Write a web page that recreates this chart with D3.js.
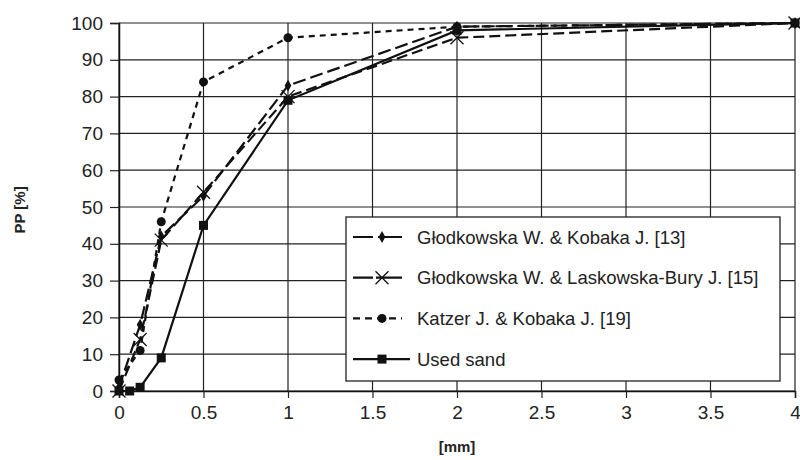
<!DOCTYPE html>
<html>
<head>
<meta charset="utf-8">
<script src="https://cdn.jsdelivr.net/npm/d3@7"></script>
<style>
  body { margin: 0; background: #fff; }
  svg text { fill: #222; }
</style>
</head>
<body>
<svg id="chart" width="800" height="460"></svg>
<script>
// sieve sizes [mm] and passing percentages
const seriesNames = [
  "Głodkowska W. & Kobaka J. [13]",
  "Głodkowska W. & Laskowska-Bury J. [15]",
  "Katzer J. & Kobaka J. [19]",
  "Used sand"
]
const sizesA = [0, 0.125, 0.25, 0.5, 1, 2, 4]
const kobaka13 = [1, 18, 42, 53, 83, 99, 100]
const laskowska15 = [0, 14, 41, 54, 80, 96, 100]
const katzer19 = [3, 11, 46, 84, 96, 99, 100]
const sizesSand = [0, 0.063, 0.125, 0.25, 0.5, 1, 2, 4]
const usedSand = [0, 0, 1, 9, 45, 79, 98, 100]

const xTicks = [0, 0.5, 1, 1.5, 2, 2.5, 3, 3.5, 4]
const yTicks = [0, 10, 20, 30, 40, 50, 60, 70, 80, 90, 100]

const svg = d3.select("#chart")
const margin = {left: 119, right: 5, top: 23, bottom: 69}
const width = 800, height = 460

const x = d3.scaleLinear().domain([0, 4]).range([margin.left, width - margin.right])
const y = d3.scaleLinear().domain([0, 100]).range([height - margin.bottom, margin.top])

// grid
svg.append("g")
  .selectAll("line.h").data(yTicks).enter().append("line")
  .attr("x1", x(0)).attr("x2", x(4))
  .attr("y1", d => y(d)).attr("y2", d => y(d))
  .attr("stroke", "#222").attr("stroke-width", 1.2)
svg.append("g")
  .selectAll("line.v").data(xTicks).enter().append("line")
  .attr("x1", d => x(d)).attr("x2", d => x(d))
  .attr("y1", y(0)).attr("y2", y(100))
  .attr("stroke", "#222").attr("stroke-width", 1.2)

// axes
const yAxis = svg.append("g")
  .attr("transform", "translate(" + x(0) + ",0)")
  .call(d3.axisLeft(y).tickValues(yTicks).tickSize(9).tickPadding(7))
yAxis.selectAll("text")
  .attr("font-family", "'Liberation Sans', Arial, sans-serif")
  .attr("font-size", 19).attr("fill", "#333")
const xAxis = svg.append("g")
  .attr("transform", "translate(0," + y(0) + ")")
  .call(d3.axisBottom(x).tickValues(xTicks).tickSize(7).tickPadding(8).tickFormat(d3.format("")))
xAxis.selectAll("text")
  .attr("font-family", "'Liberation Sans Narrow', 'Liberation Sans', Arial, sans-serif")
  .attr("font-size", 19).attr("fill", "#333")
svg.selectAll(".domain").attr("stroke", "#111").attr("stroke-width", 1.5)
svg.selectAll(".tick line").attr("stroke", "#222").attr("stroke-width", 1.2)

svg.append("text")
  .attr("transform", "translate(25," + ((y(0) + y(100)) / 2 + 3) + ") rotate(-90)")
  .attr("text-anchor", "middle")
  .attr("font-family", "'Liberation Sans', Arial, sans-serif")
  .attr("font-weight", "bold").attr("font-size", 15)
  .text("PP  [%]")
svg.append("text")
  .attr("x", (x(0) + x(4)) / 2).attr("y", 452)
  .attr("text-anchor", "middle")
  .attr("font-family", "'Liberation Sans Narrow', 'Liberation Sans', Arial, sans-serif")
  .attr("font-weight", "bold").attr("font-size", 15)
  .text("[mm]")

const series = [
  {name: seriesNames[0], xs: sizesA, ys: kobaka13, dash: "13,5", marker: "diamond"},
  {name: seriesNames[1], xs: sizesA, ys: laskowska15, dash: "11,5", marker: "cross"},
  {name: seriesNames[2], xs: sizesA, ys: katzer19, dash: "6,5", marker: "circle"},
  {name: seriesNames[3], xs: sizesSand, ys: usedSand, dash: null, marker: "square"}
]

const line = d3.line().x(d => x(d[0])).y(d => y(d[1]))

function drawMarker(g, type, cx, cy) {
  if (type == "diamond") {
    g.append("path")
      .attr("d", d3.symbol(d3.symbolDiamond, 40)())
      .attr("transform", "translate(" + cx + "," + cy + ")")
      .attr("fill", "#111")
  } else if (type == "cross") {
    g.append("path")
      .attr("d", "M-6.5,-6.5L6.5,6.5M-6.5,6.5L6.5,-6.5")
      .attr("transform", "translate(" + cx + "," + cy + ")")
      .attr("stroke", "#111").attr("stroke-width", 1.3).attr("fill", "none")
  } else if (type == "circle") {
    g.append("circle").attr("cx", cx).attr("cy", cy).attr("r", 4.5).attr("fill", "#111")
  } else {
    g.append("rect").attr("x", cx - 4.5).attr("y", cy - 4.5)
      .attr("width", 9).attr("height", 9).attr("fill", "#111")
  }
}

series.forEach(s => {
  const pts = s.xs.map((v, i) => [v, s.ys[i]])
  const g = svg.append("g")
  g.append("path")
    .datum(pts)
    .attr("d", line)
    .attr("fill", "none")
    .attr("stroke", "#111")
    .attr("stroke-width", 2.2)
    .attr("stroke-dasharray", s.dash)
  pts.forEach(p => drawMarker(g, s.marker, x(p[0]), y(p[1])))
})

// legend
const lg = svg.append("g").attr("transform", "translate(346,217)")
lg.append("rect").attr("width", 434).attr("height", 164)
  .attr("fill", "#fff").attr("stroke", "#222").attr("stroke-width", 1.3)
const legendDash = ["20,5,30", "20,3,30", "7,5", null]
series.forEach((s, i) => {
  const ly = 20 + i * 40.7
  const it = lg.append("g")
  it.append("line").attr("x1", 7).attr("x2", i == 3 ? 64 : 56).attr("y1", ly).attr("y2", ly)
    .attr("stroke", "#111").attr("stroke-width", 2.2)
    .attr("stroke-dasharray", legendDash[i])
  drawMarker(it, s.marker, 36, ly)
  it.append("text").attr("x", 71).attr("y", ly + 6.5)
    .attr("font-family", "'Liberation Sans', Arial, sans-serif")
    .attr("font-size", 18.5).attr("fill", "#333")
    .text(s.name)
})
</script>
</body>
</html>
